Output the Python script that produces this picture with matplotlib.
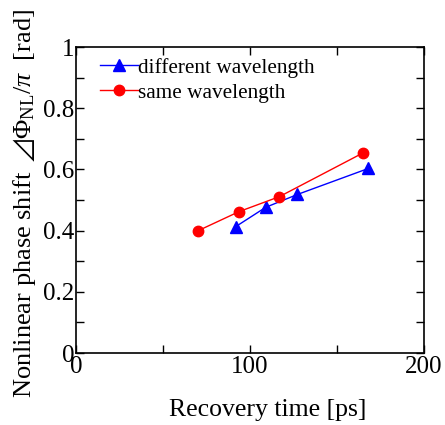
import matplotlib
matplotlib.use("Agg")
import matplotlib.pyplot as plt
from matplotlib.ticker import MultipleLocator

diff_x = [91.8, 109.0, 127.2, 168.0]
diff_y = [0.413, 0.476, 0.518, 0.603]
same_x = [70.3, 93.7, 116.9, 165.0]
same_y = [0.400, 0.462, 0.511, 0.654]

plt.rcParams['font.family'] = ['Liberation Serif', 'DejaVu Serif', 'DejaVu Sans']
plt.rcParams['mathtext.fontset'] = 'custom'
plt.rcParams['mathtext.rm'] = 'Liberation Serif'
plt.rcParams['mathtext.it'] = 'Liberation Serif:italic'
plt.rcParams['mathtext.fallback'] = 'stix'

fig = plt.figure(figsize=(4.45, 4.25), dpi=100)
ax = fig.add_axes([76/445, 1-353/425, 348/445, 306/425])

ax.plot(diff_x, diff_y, color='#0000ff', lw=1.0, marker='^', ms=8.5, label='different wavelength')
ax.plot(same_x, same_y, color='#ff0000', lw=1.0, marker='o', ms=7.5, label='same wavelength')

ax.set_xlim(0, 200)
ax.set_ylim(0, 1)
ax.xaxis.set_minor_locator(MultipleLocator(50))
ax.yaxis.set_minor_locator(MultipleLocator(0.1))
ax.set_yticks([0, 0.2, 0.4, 0.6, 0.8, 1.0])
ax.set_yticklabels(['0', '0.2', '0.4', '0.6', '0.8', '1'])
ax.set_xticks([0, 100, 200])
ax.set_xticklabels(['0', '100', '200'])
ax.tick_params(which='both', direction='in', top=True, right=True, labelsize=18, width=1)
ax.tick_params(which='major', length=6)
ax.tick_params(which='minor', length=6)
ax.tick_params(axis='x', pad=2)
ax.tick_params(axis='y', pad=1)
for s in ax.spines.values():
    s.set_linewidth(1.2)

ax.set_xlabel('Recovery time [ps]', fontsize=18.5)
ax.xaxis.set_label_coords(0.552, -0.151)
ax.set_ylabel('Nonlinear phase shift $\\,\u22bf\\mathrm{\u03a6}_{\\mathrm{NL}}/\\pi$  [rad]', fontsize=19)
ax.yaxis.set_label_coords(-0.108, 0.49)

leg = ax.legend(loc='upper left', frameon=False, fontsize=15.3, handlelength=1.75,
                handletextpad=0.0, borderaxespad=0.0, labelspacing=0.25,
                borderpad=0.0, bbox_to_anchor=(0.07, 0.965))

fig.savefig('out.png', dpi=100)
